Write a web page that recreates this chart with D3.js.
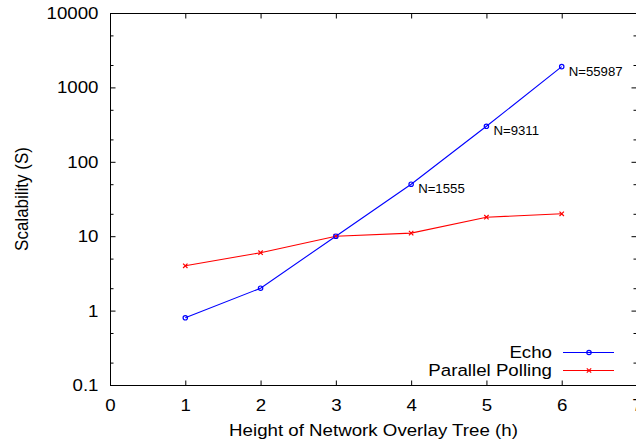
<!DOCTYPE html>
<html>
<head>
<meta charset="utf-8">
<script src="https://cdn.jsdelivr.net/npm/d3@7"></script>
<style>
  body { margin: 0; background: #fff; }
  text { font-family: "Liberation Sans", Arial, Helvetica, sans-serif; fill: #000; }
  .tick line { stroke: #000; }
</style>
</head>
<body>
<div id="chart"></div>
<script>
// data
var heights = [1, 2, 3, 4, 5, 6];
var echoValues = [0.8, 2, 10, 50, 300, 1900];
var pollingValues = [4, 6, 10, 11, 18, 20];
var nodeLabels = ["", "", "", "N=1555", "N=9311", "N=55987"];
var xTickValues = [0, 1, 2, 3, 4, 5, 6, 7];
var yTickValues = [0.1, 1, 10, 100, 1000, 10000];
var yTickLabels = ["0.1", "1", "10", "100", "1000", "10000"];
var yMinorValues = [0.2, 0.5, 2, 5, 20, 50, 200, 500, 2000, 5000];
var seriesNames = ["Echo", "Parallel Polling"];

var SX = 1.1; // the original text is a bit wider than it is tall

var width = 636, height = 443;
var margin = { left: 110, right: -1, top: 13, bottom: 58 };

var svg = d3.select("#chart").append("svg")
    .attr("width", width)
    .attr("height", height);

var x = d3.scaleLinear().domain([0, 7]).range([margin.left, width - margin.right]);
var y = d3.scaleLog().domain([0.1, 10000]).range([height - margin.bottom, margin.top]);

function stretch(sel) {
    sel.each(function () {
        var t = d3.select(this);
        var tx = +t.attr("x") || 0;
        t.attr("x", tx / SX).attr("transform", "scale(" + SX + ",1)");
    });
}

var yFmt = function (d) { return yTickLabels[yTickValues.indexOf(d)]; };

// left axis (ticks point inward)
var gy = svg.append("g")
    .attr("transform", "translate(" + (x(0) + 0.5) + ",0)")
    .call(d3.axisLeft(y).tickValues(yTickValues).tickFormat(yFmt).tickSize(-5).tickPadding(12));
gy.select(".domain").remove();
gy.selectAll("text").style("font-size", "17px").call(stretch);

svg.append("g")
    .attr("transform", "translate(" + (x(0) + 0.5) + ",0)")
    .call(d3.axisLeft(y).tickValues(yMinorValues).tickFormat("").tickSize(-3))
    .select(".domain").remove();

// right mirror
svg.append("g")
    .attr("transform", "translate(" + (x(7) - 0.5) + ",0)")
    .call(d3.axisRight(y).tickValues(yTickValues).tickFormat("").tickSize(-5))
    .select(".domain").remove();
svg.append("g")
    .attr("transform", "translate(" + (x(7) - 0.5) + ",0)")
    .call(d3.axisRight(y).tickValues(yMinorValues).tickFormat("").tickSize(-3))
    .select(".domain").remove();

// bottom axis
var gx = svg.append("g")
    .attr("transform", "translate(0," + (y(0.1) + 0.5) + ")")
    .call(d3.axisBottom(x).tickValues(xTickValues).tickFormat(d3.format("d")).tickSize(-5).tickPadding(13));
gx.select(".domain").remove();
gx.selectAll("text").style("font-size", "17px").call(stretch);

// top mirror
svg.append("g")
    .attr("transform", "translate(0," + (y(10000) + 0.5) + ")")
    .call(d3.axisTop(x).tickValues(xTickValues).tickFormat("").tickSize(-5))
    .select(".domain").remove();

// frame
svg.append("rect")
    .attr("x", x(0) + 0.5)
    .attr("y", y(10000) + 0.5)
    .attr("width", x(7) - x(0) - 1)
    .attr("height", y(0.1) - y(10000))
    .attr("fill", "none")
    .attr("stroke", "#000")
    .attr("stroke-width", 1);

// axis titles
svg.append("text")
    .attr("transform", "translate(28," + ((y(0.1) + y(10000)) / 2) + ") scale(" + SX + ",1) rotate(-90)")
    .attr("text-anchor", "middle")
    .style("font-size", "17px")
    .text("Scalability (S)");

svg.append("text")
    .attr("x", (x(0) + x(7)) / 2)
    .attr("y", 436)
    .attr("text-anchor", "middle")
    .style("font-size", "17px")
    .text("Height of Network Overlay Tree (h)")
    .call(stretch);

// series
var echoData = heights.map(function (h, i) { return { h: h, v: echoValues[i], label: nodeLabels[i] }; });
var pollData = heights.map(function (h, i) { return { h: h, v: pollingValues[i] }; });

var line = d3.line()
    .x(function (d) { return x(d.h); })
    .y(function (d) { return y(d.v); });

svg.append("path")
    .datum(pollData)
    .attr("d", line)
    .attr("fill", "none")
    .attr("stroke", "#ff0000")
    .attr("stroke-width", 1.1);

svg.append("path")
    .datum(echoData)
    .attr("d", line)
    .attr("fill", "none")
    .attr("stroke", "#0000ff")
    .attr("stroke-width", 1.1);

function crossPath(cx, cy) {
    var s = 2.2;
    return "M" + (cx - s) + "," + (cy - s) + "L" + (cx + s) + "," + (cy + s) +
        "M" + (cx - s) + "," + (cy + s) + "L" + (cx + s) + "," + (cy - s);
}

svg.selectAll(".poll-mark")
    .data(pollData)
    .enter().append("path")
    .attr("class", "poll-mark")
    .attr("d", function (d) { return crossPath(x(d.h), y(d.v)); })
    .attr("stroke", "#ff0000")
    .attr("stroke-width", 1.2);

svg.selectAll(".echo-mark")
    .data(echoData)
    .enter().append("circle")
    .attr("class", "echo-mark")
    .attr("cx", function (d) { return x(d.h); })
    .attr("cy", function (d) { return y(d.v); })
    .attr("r", 2.2)
    .attr("fill", "none")
    .attr("stroke", "#0000ff")
    .attr("stroke-width", 1.2);

svg.selectAll(".node-label")
    .data(echoData.filter(function (d) { return d.label; }))
    .enter().append("text")
    .attr("class", "node-label")
    .attr("x", function (d) { return x(d.h) + 7; })
    .attr("y", function (d) { return y(d.v) + 9; })
    .style("font-size", "12px")
    .text(function (d) { return d.label; })
    .call(stretch);

// legend
var legend = svg.append("g");
seriesNames.forEach(function (name, i) {
    var ly = 352.5 + i * 18;
    var color = i === 0 ? "#0000ff" : "#ff0000";
    legend.append("text")
        .attr("x", 552)
        .attr("y", ly + 6)
        .attr("text-anchor", "end")
        .style("font-size", "17px")
        .text(name)
        .call(stretch);
    legend.append("line")
        .attr("x1", 563).attr("x2", 614)
        .attr("y1", ly).attr("y2", ly)
        .attr("stroke", color)
        .attr("stroke-width", 1.1);
    if (i === 0) {
        legend.append("circle")
            .attr("cx", 589).attr("cy", ly).attr("r", 2.2)
            .attr("fill", "none").attr("stroke", color).attr("stroke-width", 1.2);
    } else {
        legend.append("path")
            .attr("d", crossPath(589, ly))
            .attr("stroke", color).attr("stroke-width", 1.2);
    }
});
</script>
</body>
</html>
